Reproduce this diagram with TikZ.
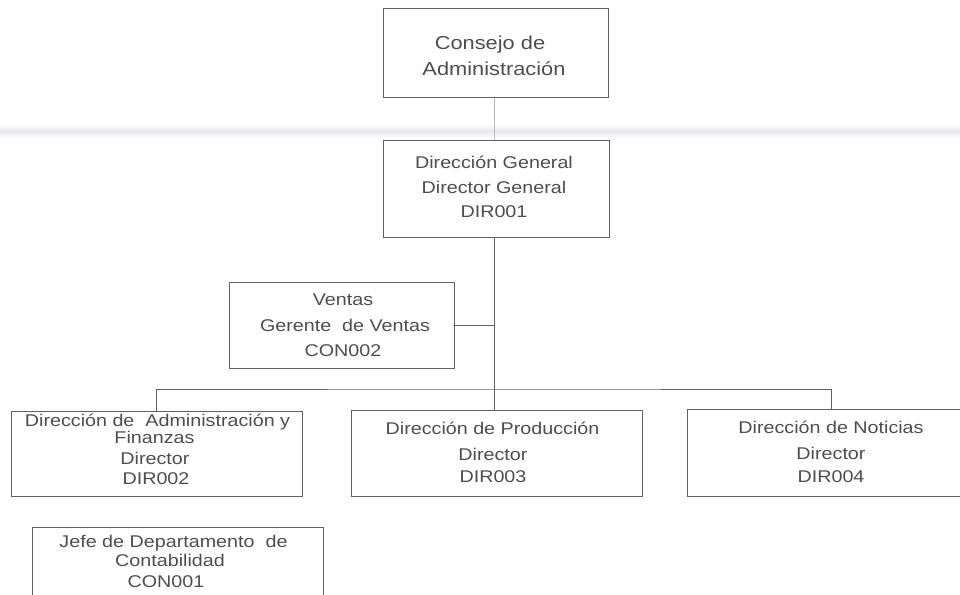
\documentclass[tikz,border=0pt]{standalone}
\usepackage{fontspec}
\newfontfamily\orgfont[FakeStretch=1.16]{Liberation Sans}
\definecolor{txtcol}{HTML}{4E4E4E}
\definecolor{boxcol}{HTML}{606060}
\definecolor{lightln}{HTML}{B8B8B8}
\definecolor{bandcol}{HTML}{E6E8F0}
\tikzset{
  box/.style={draw=boxcol, line width=1pt, inner sep=0pt, fill=none},
  txt/.style={text=txtcol, inner sep=0pt, anchor=base, font=\orgfont\fontsize{17}{20}\selectfont},
  bigtxt/.style={txt, font=\orgfont\fontsize{18.8}{22}\selectfont},
  conn/.style={draw=boxcol, line width=1pt},
  lconn/.style={draw=lightln, line width=1pt}
}
\begin{document}
\begin{tikzpicture}[x=1pt,y=-1pt]
\useasboundingbox (0,0) rectangle (960,594);
\clip (0,0) rectangle (960,594);
\fill[white] (0,0) rectangle (960,594);
% faint scan band
\shade[top color=white, bottom color=bandcol] (0,124) rectangle (960,131);
\shade[top color=bandcol, bottom color=white] (0,131) rectangle (960,138);

% boxes
\node[box, minimum width=225pt, minimum height=88pt] (consejo) at (495.5,53) {};
\node[box, minimum width=226pt, minimum height=97pt] (dg) at (496,188.5) {};
\node[box, minimum width=225pt, minimum height=86pt] (ventas) at (341.5,325) {};
\node[box, minimum width=291pt, minimum height=85pt] (adm) at (156.5,453.5) {};
\node[box, minimum width=291pt, minimum height=86pt] (prod) at (496.5,453) {};
\node[box, minimum width=288pt, minimum height=87pt] (noti) at (831,452.5) {};
\node[box, minimum width=291pt, minimum height=83pt] (cont) at (177.5,568.5) {};

% texts
\node[bigtxt] (c1) at (490,50) {Consejo de};
\node[bigtxt] (c2) at (494,75) {Administración};

\node[txt] (g1) at (494,168) {Dirección General};
\node[txt] (g2) at (494,193) {Director General};
\node[txt] (g3) at (494,217) {DIR001};

\node[txt] (v1) at (343,305) {Ventas};
\node[txt] (v2) at (345,331) {Gerente\ \ de Ventas};
\node[txt] (v3) at (343,356) {CON002};

\node[txt] (a1) at (157.5,426) {Dirección de\ \ Administración y};
\node[txt] (a2) at (154.5,443) {Finanzas};
\node[txt] (a3) at (155,464) {Director};
\node[txt] (a4) at (156,484.5) {DIR002};

\node[txt] (p1) at (492.5,434) {Dirección de Producción};
\node[txt] (p2) at (493,460) {Director};
\node[txt] (p3) at (493,482) {DIR003};

\node[txt] (n1) at (831,433.5) {Dirección de Noticias};
\node[txt] (n2) at (831,459) {Director};
\node[txt] (n3) at (831,482) {DIR004};

\node[txt] (j1) at (173.5,547.5) {Jefe de Departamento\ \ de};
\node[txt] (j2) at (170,566) {Contabilidad};
\node[txt] (j3) at (166,587) {CON001};

% connectors
\coordinate (bus) at (494,389);
\draw[lconn] (consejo.south -| bus) -- (bus |- dg.north);
\draw[conn] (bus |- dg.south) -- (bus |- prod.north);
\draw[conn] (ventas.east) -- (ventas.east -| bus);
\draw[conn] (adm.north) |- (bus) -| (noti.north);
\end{tikzpicture}
\end{document}
